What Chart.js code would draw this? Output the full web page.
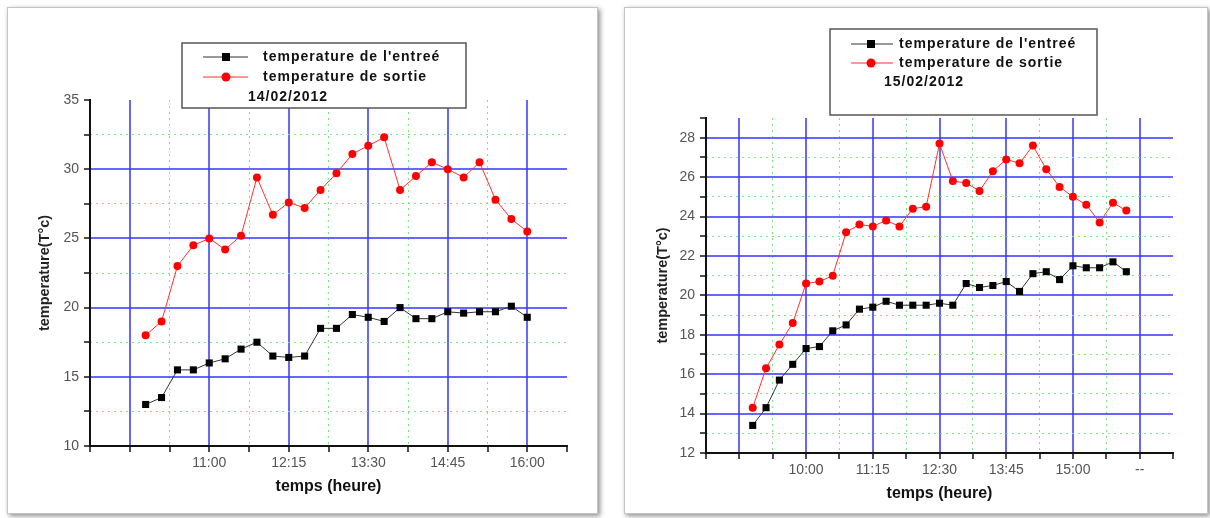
<!DOCTYPE html>
<html><head><meta charset="utf-8">
<script src="https://cdn.jsdelivr.net/npm/chart.js@4.4.1/dist/chart.umd.min.js"></script>
<style>
html,body{margin:0;padding:0;background:#fff;}
body{width:1210px;height:518px;position:relative;overflow:hidden;}
.panel{position:absolute;background:#fff;border:1px solid #c4c4c4;box-shadow:2px 2px 5px rgba(0,0,0,0.45);}
#p1{left:7px;top:7px;width:589px;height:505px;}
#p2{left:624px;top:7px;width:582px;height:505px;}
canvas{position:absolute;left:0;top:0;}
</style></head><body>
<div class="panel" id="p1"><canvas id="c1" width="589" height="505"></canvas></div>
<div class="panel" id="p2"><canvas id="c2" width="582" height="505"></canvas></div>
<script>
// ---------- DATA ----------
const seriesNames = ["temperature de l'entreé", "temperature de sortie"];
const xTitle = "temps (heure)";
const yTitle = "temperature(T°c)";

// Chart 1 : 14/02/2012
const date1 = "14/02/2012";
const times1 = ["10:00","10:15","10:30","10:45","11:00","11:15","11:30","11:45","12:00","12:15","12:30","12:45","13:00",
                "13:15","13:30","13:45","14:00","14:15","14:30","14:45","15:00","15:15","15:30","15:45","16:00"];
const inlet1  = [13, 13.5, 15.5, 15.5, 16, 16.3, 17, 17.5, 16.5, 16.4, 16.5, 18.5, 18.5,
                 19.5, 19.3, 19, 20, 19.2, 19.2, 19.7, 19.6, 19.7, 19.7, 20.1, 19.3];
const outlet1 = [18, 19, 23, 24.5, 25, 24.2, 25.2, 29.4, 26.7, 27.6, 27.2, 28.5, 29.7,
                 31.1, 31.7, 32.3, 28.5, 29.5, 30.5, 30, 29.4, 30.5, 27.8, 26.4, 25.5];
const xTicks1 = ["9:45","11:00","12:15","13:30","14:45","16:00"];
const xTickLabels1 = ["", "11:00","12:15","13:30","14:45","16:00"];
const yTicks1 = [10, 15, 20, 25, 30, 35];
const yMax1 = 35;

// Chart 2 : 15/02/2012
const date2 = "15/02/2012";
const times2 = ["9:00","9:15","9:30","9:45","10:00","10:15","10:30","10:45","11:00","11:15","11:30","11:45","12:00",
                "12:15","12:30","12:45","13:00","13:15","13:30","13:45","14:00","14:15","14:30","14:45","15:00",
                "15:15","15:30","15:45","16:00"];
const inlet2  = [13.4, 14.3, 15.7, 16.5, 17.3, 17.4, 18.2, 18.5, 19.3, 19.4, 19.7, 19.5, 19.5,
                 19.5, 19.6, 19.5, 20.6, 20.4, 20.5, 20.7, 20.2, 21.1, 21.2, 20.8, 21.5,
                 21.4, 21.4, 21.7, 21.2];
const outlet2 = [14.3, 16.3, 17.5, 18.6, 20.6, 20.7, 21.0, 23.2, 23.6, 23.5, 23.8, 23.5, 24.4,
                 24.5, 27.7, 25.8, 25.7, 25.3, 26.3, 26.9, 26.7, 27.6, 26.4, 25.5, 25.0,
                 24.6, 23.7, 24.7, 24.3];
const xTicks2 = ["8:45","10:00","11:15","12:30","13:45","15:00","16:15"];
const xTickLabels2 = ["", "10:00","11:15","12:30","13:45","15:00","--"];
const yTicks2 = [12, 14, 16, 18, 20, 22, 24, 26, 28];
const yMax2 = 29;

// ---------- STYLE ----------
const FONT = '"Liberation Sans", Arial, sans-serif';
const BLUE = 'rgba(60,60,255,0.78)';
const GREEN = 'rgba(120,230,120,0.95)';
const TRANSP = 'rgba(0,0,0,0)';

function toMin(t){ const p = t.split(':'); return (+p[0])*60 + (+p[1]); }

function legendPlugin(L, dateText){
  return {
    id: 'boxLegend',
    afterDraw(chart){
      const ctx = chart.ctx;
      ctx.save();
      ctx.fillStyle = '#fff';
      ctx.fillRect(L.x, L.y, L.w, L.h);
      ctx.strokeStyle = '#555';
      ctx.lineWidth = 1.5;
      ctx.strokeRect(L.x, L.y, L.w, L.h);
      ctx.font = 'bold 14px ' + FONT;
      try { ctx.letterSpacing = '1px'; } catch(e) {}
      ctx.textBaseline = 'middle';
      chart.data.datasets.forEach((ds, i) => {
        const y = L.row0 + i * L.rowH;
        ctx.strokeStyle = ds.borderColor;
        ctx.lineWidth = 1.2;
        ctx.beginPath(); ctx.moveTo(L.sx1, y); ctx.lineTo(L.sx2, y); ctx.stroke();
        ctx.fillStyle = ds.pointBackgroundColor;
        if (ds.pointStyle === 'rect') {
          ctx.fillRect(L.mx - 4, y - 4, 8, 8);
        } else {
          ctx.beginPath(); ctx.arc(L.mx, y, 4.5, 0, Math.PI*2); ctx.fill();
        }
        ctx.fillStyle = '#111';
        ctx.fillText(ds.label, L.tx, y);
      });
      ctx.fillStyle = '#111';
      ctx.fillText(dateText, L.dx, L.row0 + 2 * L.rowH);
      ctx.restore();
    }
  };
}

function makeChart(id, o){
  const xMajor = o.xTicks.map(toMin);
  const half = (xMajor[1] - xMajor[0]) / 2;
  const xMin = xMajor[0] - half, xMax = xMajor[xMajor.length-1] + half;
  const xMinor = xMajor.slice(1).map((v,i) => (v + xMajor[i]) / 2);
  const xAll = [xMin].concat(xMajor, xMinor, [xMax]).sort((a,b)=>a-b);

  const yMajor = o.yTicks;
  const yMin = yMajor[0], yMax = o.yMax;
  const yMinor = yMajor.slice(1).map((v,i) => (v + yMajor[i]) / 2);
  const yAll = yMajor.concat(yMinor, yMajor.includes(yMax) ? [] : [yMax]).sort((a,b)=>a-b);

  const ds = [
    { label: seriesNames[0], data: o.times.map((t,i)=>({x: toMin(t), y: o.inlet[i]})),
      borderColor: '#333', borderWidth: 1, pointStyle: 'rect', pointRadius: 5,
      pointBackgroundColor: '#000', pointBorderWidth: 0, tension: 0 },
    { label: seriesNames[1], data: o.times.map((t,i)=>({x: toMin(t), y: o.outlet[i]})),
      borderColor: '#ff3030', borderWidth: 1, pointStyle: 'circle', pointRadius: 4,
      pointBackgroundColor: '#ff0000', pointBorderWidth: 0, tension: 0 }
  ];

  return new Chart(document.getElementById(id), {
    type: 'line',
    data: { datasets: ds },
    options: {
      responsive: false, animation: false, devicePixelRatio: 1, events: [],
      layout: { padding: o.pad },
      plugins: { legend: { display: false }, tooltip: { enabled: false } },
      scales: {
        x: {
          type: 'linear', position: 'bottom', min: xMin, max: xMax,
          afterBuildTicks: s => { s.ticks = xAll.map(v => ({ value: v })); },
          afterFit: s => { s.height = 50; },
          ticks: { autoSkip: false, maxRotation: 0, minRotation: 0, padding: 3, color: '#555',
                   font: { family: FONT, size: 14 },
                   callback: v => { const k = xMajor.indexOf(v); return k >= 0 ? o.xTickLabels[k] : ''; } },
          grid: { color: c => (c.tick && xMajor.includes(c.tick.value)) ? BLUE : TRANSP,
                  lineWidth: 2, tickColor: '#111', tickLength: 6, tickWidth: 1.5 },
          border: { display: true, color: '#111', width: 2 },
          title: { display: true, text: xTitle, color: '#111',
                   font: { family: FONT, size: 16, weight: 'bold' }, padding: { top: 0, bottom: 0 } }
        },
        x2: {
          type: 'linear', position: 'bottom', min: xMin, max: xMax,
          afterBuildTicks: s => { s.ticks = xMinor.map(v => ({ value: v })); },
          afterFit: s => { s.height = 0; },
          ticks: { display: false },
          grid: { color: GREEN, lineWidth: 1, drawTicks: false, borderDash: [2, 4] },
          border: { display: false, dash: [2, 4] },
          title: { display: false }
        },
        y: {
          type: 'linear', position: 'left', min: yMin, max: yMax,
          afterBuildTicks: s => { s.ticks = yAll.map(v => ({ value: v })); },
          afterFit: s => { s.width = o.yWidth; },
          ticks: { autoSkip: false, padding: 5, color: '#555', font: { family: FONT, size: 14 },
                   callback: v => yMajor.includes(v) ? String(v) : '' },
          grid: { color: c => (c.tick && yMajor.includes(c.tick.value) && c.tick.value !== yMin && c.tick.value !== yMax) ? BLUE : TRANSP,
                  lineWidth: 2, tickColor: '#111', tickLength: 6, tickWidth: 1.5 },
          border: { display: true, color: '#111', width: 2 },
          title: { display: true, text: yTitle, color: '#222',
                   font: { family: FONT, size: 14.5, weight: 'bold' }, padding: { top: 0, bottom: 0 } }
        },
        y2: {
          type: 'linear', position: 'left', min: yMin, max: yMax,
          afterBuildTicks: s => { s.ticks = yMinor.map(v => ({ value: v })); },
          afterFit: s => { s.width = 0; },
          ticks: { display: false },
          grid: { color: GREEN, lineWidth: 1, drawTicks: false, borderDash: [2, 4] },
          border: { display: false, dash: [2, 4] },
          title: { display: false }
        }
      }
    },
    plugins: [legendPlugin(o.legend, o.date)]
  });
}

makeChart('c1', {
  times: times1, inlet: inlet1, outlet: outlet1, date: date1,
  xTicks: xTicks1, xTickLabels: xTickLabels1, yTicks: yTicks1, yMax: yMax1,
  pad: { left: 28, top: 92, right: 30, bottom: 17 }, yWidth: 54,
  legend: { x: 174, y: 35, w: 284, h: 65, sx1: 195, sx2: 240, mx: 218, row0: 49, rowH: 20, tx: 255, dx: 240 }
});
makeChart('c2', {
  times: times2, inlet: inlet2, outlet: outlet2, date: date2,
  xTicks: xTicks2, xTickLabels: xTickLabels2, yTicks: yTicks2, yMax: yMax2,
  pad: { left: 29, top: 110, right: 34, bottom: 10 }, yWidth: 52,
  legend: { x: 205, y: 21, w: 267, h: 86, sx1: 226, sx2: 268, mx: 246, row0: 36, rowH: 19, tx: 274, dx: 259 }
});
</script>
</body></html>
